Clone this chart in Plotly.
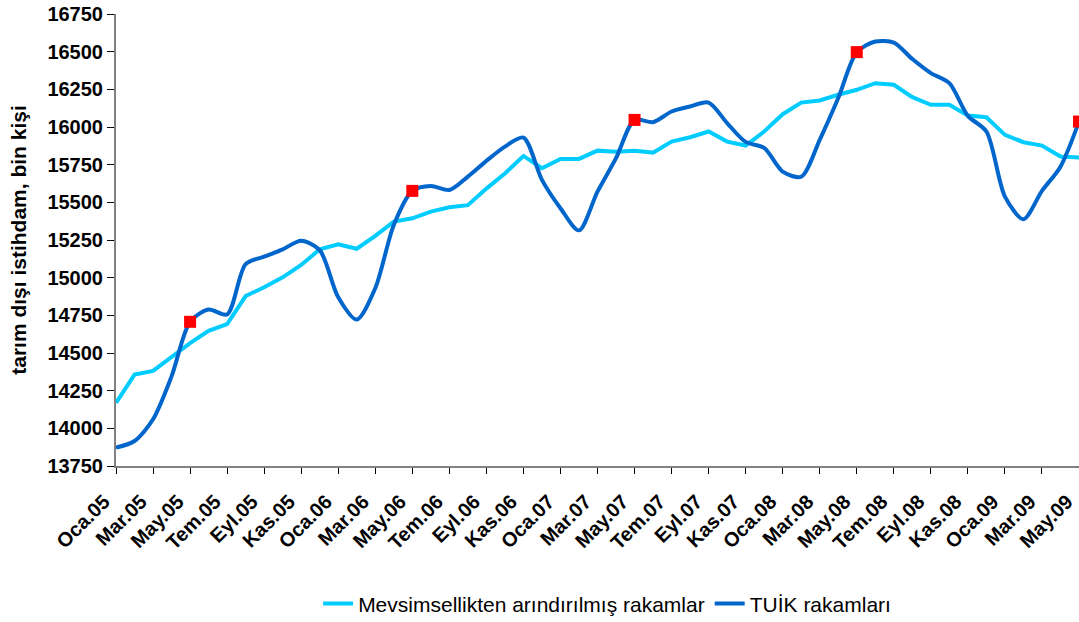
import plotly.graph_objects as go

month_names = ["Oca", "Şub", "Mar", "Nis", "May", "Haz", "Tem", "Ağu", "Eyl", "Eki", "Kas", "Ara"]
years = ["05", "06", "07", "08", "09"]
months = [f"{m}.{y}" for y in years for m in month_names][:53]  # Oca.05 .. May.09

seasonally_adjusted = [14169, 14357, 14381, 14472, 14565, 14647, 14692, 14878, 14936, 15002,
                       15084, 15188, 15221, 15192, 15277, 15372, 15394, 15438, 15467, 15481,
                       15591, 15691, 15808, 15726, 15788, 15788, 15843, 15835, 15843, 15830,
                       15903, 15932, 15970, 15903, 15877, 15970, 16085, 16162, 16176, 16214,
                       16247, 16291, 16280, 16198, 16147, 16147, 16076, 16065, 15948, 15899,
                       15877, 15804, 15797]

tuik = [13872, 13916, 14060, 14345, 14707, 14789, 14756, 15090, 15139, 15188,
        15245, 15183, 14870, 14722, 14930, 15350, 15576, 15609, 15582, 15671,
        15775, 15870, 15930, 15649, 15461, 15314, 15571, 15793, 16047, 16032,
        16103, 16136, 16162, 16026, 15901, 15861, 15704, 15670, 15915, 16192,
        16497, 16567, 16560, 16451, 16358, 16291, 16074, 15970, 15538, 15388,
        15576, 15737, 16036]

may_months = [m for m in months if m.startswith("May.")]
may_values = [tuik[months.index(m)] for m in may_months]

tick_labels = months[::2]
x_idx = list(range(len(months)))

FONT = "Liberation Sans, Arial, sans-serif"

fig = go.Figure()
fig.add_trace(go.Scatter(
    x=x_idx, y=seasonally_adjusted, mode="lines",
    name="Mevsimsellikten arındırılmış rakamlar",
    line=dict(color="#00CCFF", width=4),
))
fig.add_trace(go.Scatter(
    x=x_idx, y=tuik, mode="lines",
    name="TUİK rakamları",
    line=dict(color="#0066CC", width=4, shape="spline", smoothing=0.8),
))
fig.add_trace(go.Scatter(
    x=[months.index(m) for m in may_months], y=may_values, mode="markers",
    showlegend=False, cliponaxis=False,
    marker=dict(symbol="square", size=12, color="#FF0000"),
))

fig.update_layout(
    width=1079, height=622,
    margin=dict(l=116, r=0, t=14, b=156, autoexpand=False),
    paper_bgcolor="white", plot_bgcolor="white",
    font=dict(family=FONT, color="black"),
    legend=dict(orientation="h", x=0.51, xanchor="center", y=-0.305, yanchor="middle",
                font=dict(size=21, color="black", family=FONT), tracegroupgap=0),
)
fig.update_xaxes(
    range=[0, len(months) - 1 + 1e-6],
    tickmode="array", tickvals=x_idx[::2], ticktext=tick_labels,
    tickangle=-45, ticks="outside", ticklen=6, tickcolor="black", tickwidth=1,
    ticklabelshift=-12, ticklabelstandoff=8,
    showline=True, linecolor="#808080", linewidth=2,
    showgrid=False, zeroline=False, automargin=False, ticklabeloverflow="allow",
    tickfont=dict(size=20, family=FONT, color="black", weight="bold"),
)
fig.update_yaxes(
    range=[13750, 16750], dtick=250, tick0=13750, tickformat="d",
    ticks="outside", ticklen=7, tickcolor="black", tickwidth=1,
    showline=True, linecolor="#808080", linewidth=2,
    showgrid=False, zeroline=False, automargin=False, ticklabeloverflow="allow",
    tickfont=dict(size=20, family=FONT, color="black", weight="bold"),
    title=dict(text="<b>tarım dışı istihdam, bin kişi</b>", standoff=15,
               font=dict(size=21, family=FONT, color="black")),
)

fig.write_html("out.html", config={"displayModeBar": False},
               post_script="document.body.style.margin='0px';")
